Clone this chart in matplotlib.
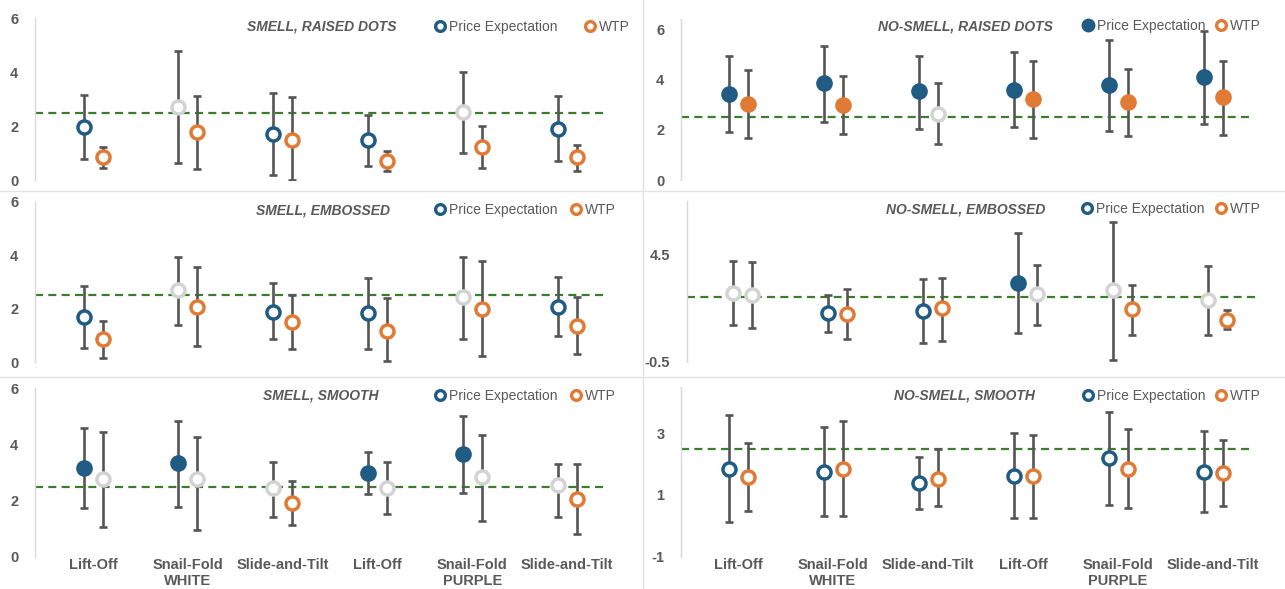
import matplotlib
matplotlib.use("Agg")
import matplotlib.pyplot as plt
from matplotlib.lines import Line2D

# categories along the x axis
categories = ['Lift-Off', 'Snail-Fold\nWHITE', 'Slide-and-Tilt',
              'Lift-Off', 'Snail-Fold\nPURPLE', 'Slide-and-Tilt']
reference = 2.5

titles = ['SMELL, RAISED DOTS', 'NO-SMELL, RAISED DOTS',
          'SMELL, EMBOSSED', 'NO-SMELL, EMBOSSED',
          'SMELL, SMOOTH', 'NO-SMELL, SMOOTH']

# f = filled (above 2.5), o = hollow (below 2.5), n = not significant (grey)
smell_dots_pe = [1.97, 2.72, 1.70, 1.48, 2.53, 1.91]
smell_dots_pe_lo = [0.79, 0.62, 0.17, 0.53, 1.01, 0.72]
smell_dots_pe_hi = [3.17, 4.79, 3.23, 2.41, 4.00, 3.11]
smell_dots_wtp = [0.84, 1.78, 1.48, 0.72, 1.21, 0.84]
smell_dots_wtp_lo = [0.43, 0.41, 0.00, 0.35, 0.43, 0.35]
smell_dots_wtp_hi = [1.21, 3.11, 3.09, 1.06, 2.00, 1.30]
smell_dots_pe_sig = ['o', 'n', 'o', 'o', 'n', 'o']
smell_dots_wtp_sig = ['o', 'o', 'o', 'o', 'o', 'o']

nosmell_dots_pe = [3.41, 3.85, 3.52, 3.59, 3.76, 4.09]
nosmell_dots_pe_lo = [1.91, 2.32, 2.04, 2.10, 1.95, 2.24]
nosmell_dots_pe_hi = [4.91, 5.34, 4.94, 5.09, 5.58, 5.91]
nosmell_dots_wtp = [3.02, 2.99, 2.63, 3.21, 3.09, 3.29]
nosmell_dots_wtp_lo = [1.67, 1.82, 1.42, 1.66, 1.76, 1.79]
nosmell_dots_wtp_hi = [4.38, 4.12, 3.86, 4.73, 4.42, 4.74]
nosmell_dots_pe_sig = ['f', 'f', 'f', 'f', 'f', 'f']
nosmell_dots_wtp_sig = ['f', 'f', 'n', 'f', 'f', 'f']

smell_emb_pe = [1.71, 2.70, 1.89, 1.83, 2.43, 2.08]
smell_emb_pe_lo = [0.55, 1.38, 0.87, 0.49, 0.86, 0.98]
smell_emb_pe_hi = [2.85, 3.95, 2.95, 3.16, 3.95, 3.17]
smell_emb_wtp = [0.86, 2.08, 1.49, 1.18, 1.98, 1.36]
smell_emb_wtp_lo = [0.15, 0.61, 0.50, 0.06, 0.24, 0.31]
smell_emb_wtp_hi = [1.54, 3.57, 2.51, 2.39, 3.80, 2.45]
smell_emb_pe_sig = ['o', 'n', 'o', 'o', 'n', 'o']
smell_emb_wtp_sig = ['o', 'o', 'o', 'o', 'o', 'o']

nosmell_emb_pe = [2.72, 1.76, 1.88, 3.18, 2.84, 2.38]
nosmell_emb_pe_lo = [1.21, 0.87, 0.36, 0.83, -0.41, 0.72]
nosmell_emb_pe_hi = [4.19, 2.61, 3.34, 5.48, 6.02, 3.96]
nosmell_emb_wtp = [2.59, 1.72, 1.99, 2.64, 1.96, 1.45]
nosmell_emb_wtp_lo = [1.06, 0.56, 0.48, 1.21, 0.75, 1.01]
nosmell_emb_wtp_hi = [4.13, 2.90, 3.41, 4.00, 3.07, 1.91]
nosmell_emb_pe_sig = ['n', 'o', 'o', 'f', 'n', 'n']
nosmell_emb_wtp_sig = ['n', 'o', 'o', 'n', 'o', 'o']

smell_smooth_pe = [3.17, 3.33, 2.43, 3.00, 3.66, 2.55]
smell_smooth_pe_lo = [1.72, 1.77, 1.43, 2.23, 2.28, 1.40]
smell_smooth_pe_hi = [4.57, 4.85, 3.36, 3.74, 5.02, 3.30]
smell_smooth_wtp = [2.77, 2.77, 1.92, 2.43, 2.83, 2.04]
smell_smooth_wtp_lo = [1.07, 0.95, 1.13, 1.52, 1.27, 0.80]
smell_smooth_wtp_hi = [4.43, 4.28, 2.71, 3.38, 4.33, 3.29]
smell_smooth_pe_sig = ['f', 'f', 'n', 'f', 'f', 'n']
smell_smooth_wtp_sig = ['n', 'n', 'o', 'n', 'n', 'o']

nosmell_smooth_pe = [1.85, 1.75, 1.39, 1.61, 2.20, 1.75]
nosmell_smooth_pe_lo = [0.14, 0.31, 0.55, 0.25, 0.68, 0.46]
nosmell_smooth_pe_hi = [3.59, 3.21, 2.22, 3.02, 3.69, 3.07]
nosmell_smooth_wtp = [1.58, 1.85, 1.53, 1.61, 1.85, 1.70]
nosmell_smooth_wtp_lo = [0.47, 0.31, 0.65, 0.25, 0.57, 0.63]
nosmell_smooth_wtp_hi = [2.68, 3.39, 2.49, 2.95, 3.13, 2.77]
nosmell_smooth_pe_sig = ['o', 'o', 'o', 'o', 'o', 'o']
nosmell_smooth_wtp_sig = ['o', 'o', 'o', 'o', 'o', 'o']

# y axis settings per panel
ylims = [(0, 6), (0, 6.4), (0, 6), (-0.5, 7), (0, 6), (-1, 4.5)]
yticks = [[0, 2, 4, 6], [0, 2, 4, 6], [0, 2, 4, 6], [-0.5, 4.5], [0, 2, 4, 6], [-1, 1, 3]]
legend_pe_style = ['o', 'f', 'o', 'o', 'o', 'o']

panels = [
    (smell_dots_pe, smell_dots_pe_lo, smell_dots_pe_hi, smell_dots_pe_sig,
     smell_dots_wtp, smell_dots_wtp_lo, smell_dots_wtp_hi, smell_dots_wtp_sig),
    (nosmell_dots_pe, nosmell_dots_pe_lo, nosmell_dots_pe_hi, nosmell_dots_pe_sig,
     nosmell_dots_wtp, nosmell_dots_wtp_lo, nosmell_dots_wtp_hi, nosmell_dots_wtp_sig),
    (smell_emb_pe, smell_emb_pe_lo, smell_emb_pe_hi, smell_emb_pe_sig,
     smell_emb_wtp, smell_emb_wtp_lo, smell_emb_wtp_hi, smell_emb_wtp_sig),
    (nosmell_emb_pe, nosmell_emb_pe_lo, nosmell_emb_pe_hi, nosmell_emb_pe_sig,
     nosmell_emb_wtp, nosmell_emb_wtp_lo, nosmell_emb_wtp_hi, nosmell_emb_wtp_sig),
    (smell_smooth_pe, smell_smooth_pe_lo, smell_smooth_pe_hi, smell_smooth_pe_sig,
     smell_smooth_wtp, smell_smooth_wtp_lo, smell_smooth_wtp_hi, smell_smooth_wtp_sig),
    (nosmell_smooth_pe, nosmell_smooth_pe_lo, nosmell_smooth_pe_hi, nosmell_smooth_pe_sig,
     nosmell_smooth_wtp, nosmell_smooth_wtp_lo, nosmell_smooth_wtp_hi, nosmell_smooth_wtp_sig),
]

BLUE = '#1f5b82'
ORANGE = '#e07a35'
GREY = '#d3d3d3'
TXT = '#595959'
NARROW = ['Liberation Sans Narrow', 'Liberation Sans', 'DejaVu Sans']

W, H = 1285, 589
# axes boxes in pixels: left, top, right, bottom
boxes = [(35, 18.3, 606, 180), (681, 19, 1251, 180),
         (35, 201.7, 606, 362.3), (687, 200.6, 1256, 361.7),
         (35, 388.3, 606, 556.7), (681, 387, 1251, 556.7)]
xlims = [(-0.612, 5.41), (-0.60, 5.40), (-0.612, 5.41),
         (-0.588, 5.41), (-0.612, 5.41), (-0.60, 5.40)]
title_pos = [(0.503, 0.948), (0.499, 0.955), (0.504, 0.948),
             (0.49, 0.946), (0.50, 0.956), (0.498, 0.949)]
col_space = [2.0, 0.8, 1.0, 0.8, 1.0, 0.8]
legend_x = [0.70, 0.705, 0.70, 0.695, 0.70, 0.705]

plt.rcParams['font.family'] = NARROW

fig = plt.figure(figsize=(W / 100, H / 100), dpi=100)
fig.patch.set_facecolor('white')

# light panel separators
fig.add_artist(Line2D([0, 1], [1 - 191 / H, 1 - 191 / H], color='#e3e3e3', lw=1))
fig.add_artist(Line2D([0, 1], [1 - 377 / H, 1 - 377 / H], color='#e3e3e3', lw=1))
fig.add_artist(Line2D([643 / W, 643 / W], [0, 1], color='#e3e3e3', lw=1))

x = list(range(len(categories)))
off = 0.1


def draw_points(ax, xs, mean, lo, hi, sig, color):
    err = [[m - l for m, l in zip(mean, lo)], [h - m for m, h in zip(mean, hi)]]
    ax.errorbar(xs, mean, yerr=err, fmt='none', ecolor='#555555',
                elinewidth=1.9, capsize=2.6, capthick=1.9, zorder=2)
    for xi, m, s in zip(xs, mean, sig):
        if s == 'f':
            ax.plot(xi, m, 'o', ms=12, mfc=color, mec=color, mew=0, zorder=4)
        elif s == 'o':
            ax.plot(xi, m, 'o', ms=9.4, mfc='white', mec=color, mew=2.5, zorder=4)
        else:
            ax.plot(xi, m, 'o', ms=9.4, mfc='white', mec=GREY, mew=2.5, zorder=4)


for i, p in enumerate(panels):
    pe, pe_lo, pe_hi, pe_sig, wtp, wtp_lo, wtp_hi, wtp_sig = p
    l, t, r, b = boxes[i]
    ax = fig.add_axes([l / W, 1 - b / H, (r - l) / W, (b - t) / H])
    ax.set_facecolor('none')
    ax.set_xlim(*xlims[i])
    ax.set_ylim(*ylims[i])
    ax.set_yticks(yticks[i])
    ax.set_yticklabels([('%g' % v) for v in yticks[i]], fontweight='bold')

    ax.axhline(reference, color='#3a7d2a', lw=1.6, ls=(0, (3.6, 2.4)), zorder=1)

    draw_points(ax, [xi - off for xi in x], pe, pe_lo, pe_hi, pe_sig, BLUE)
    draw_points(ax, [xi + off for xi in x], wtp, wtp_lo, wtp_hi, wtp_sig, ORANGE)

    for s in ['top', 'right', 'bottom']:
        ax.spines[s].set_visible(False)
    ax.spines['left'].set_color('#d9d9d9')
    ax.spines['left'].set_linewidth(1)
    ax.tick_params(axis='both', length=0, labelcolor=TXT, labelsize=10.5)
    ax.tick_params(axis='y', pad=12)

    ax.set_xticks(x)
    if i >= 4:
        ax.set_xticklabels(categories, fontweight='bold', linespacing=1.15)
        ax.tick_params(axis='x', pad=1)
    else:
        ax.set_xticklabels([])

    ax.text(title_pos[i][0], title_pos[i][1], titles[i], transform=ax.transAxes,
            ha='center', va='center', fontsize=10, fontweight='bold',
            fontstyle='italic', color=TXT)

    if legend_pe_style[i] == 'f':
        h_pe = Line2D([], [], ls='none', marker='o', ms=10, mfc=BLUE, mec=BLUE, mew=0)
    else:
        h_pe = Line2D([], [], ls='none', marker='o', ms=7, mfc='white', mec=BLUE, mew=2.4)
    h_wtp = Line2D([], [], ls='none', marker='o', ms=7, mfc='white', mec=ORANGE, mew=2.4)
    ax.legend([h_pe, h_wtp], ['Price Expectation', 'WTP'], ncol=2, frameon=False,
              loc='center left', bbox_to_anchor=(legend_x[i], title_pos[i][1]),
              borderpad=0, borderaxespad=0, handlelength=0.7, handletextpad=0.3,
              columnspacing=col_space[i], labelcolor=TXT,
              prop={'family': NARROW, 'size': 10})

fig.savefig('out.png', dpi=100, facecolor='white')
